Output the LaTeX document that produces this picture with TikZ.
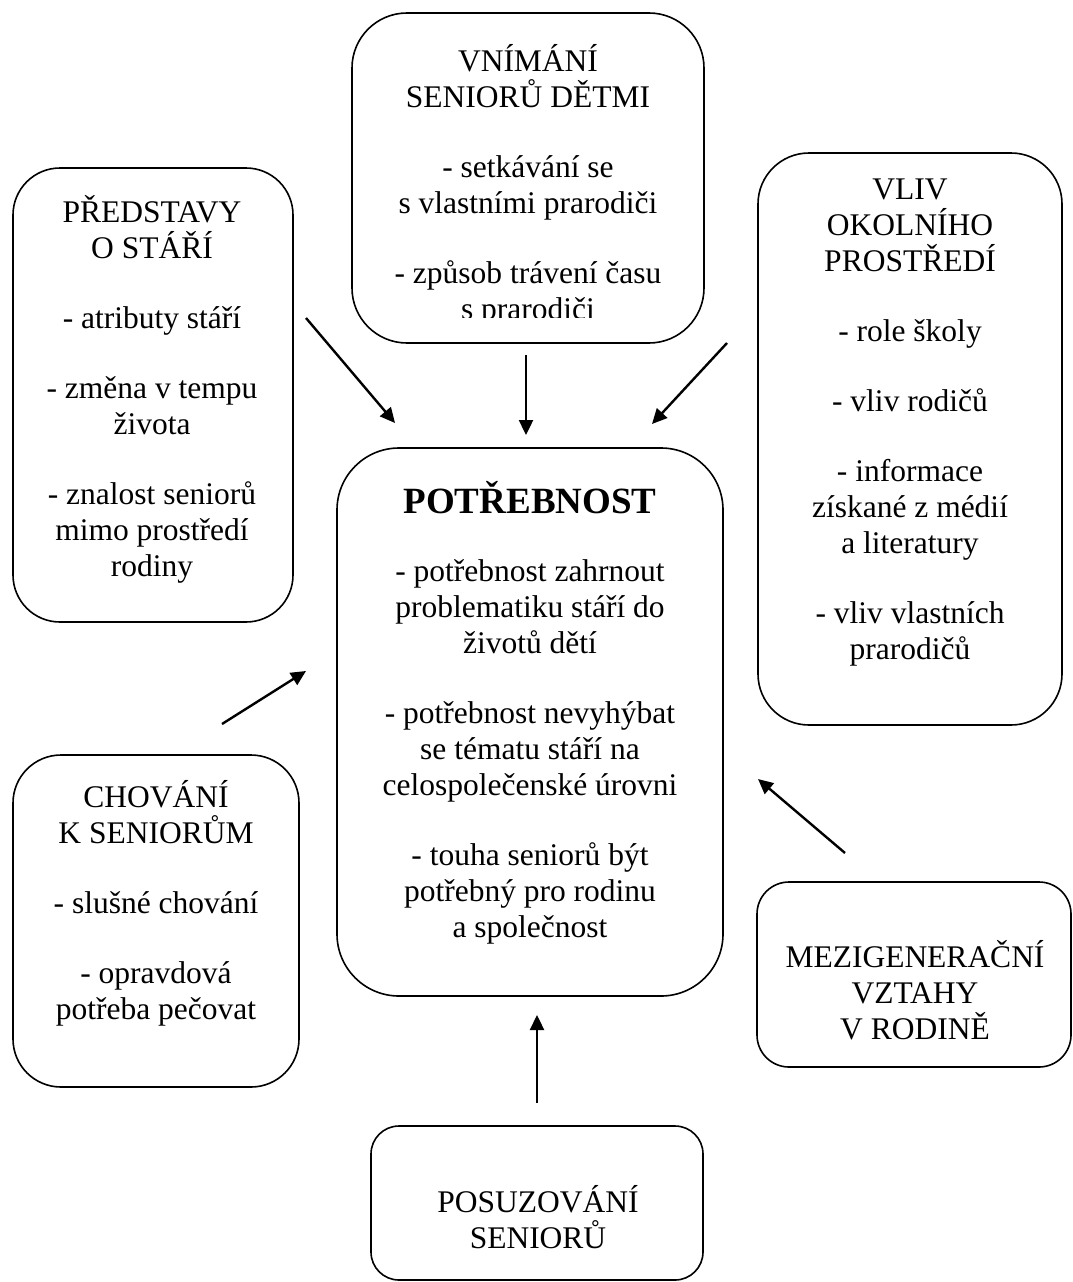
\documentclass[tikz,border=0pt]{standalone}
\usepackage{fontspec}
\setmainfont{Liberation Serif}
\usetikzlibrary{arrows.meta}

\tikzset{
  box/.style={draw, line width=1.6pt},
  txt/.style={align=center, inner sep=0pt, font=\fontsize{31.5}{36}\selectfont},
  arr/.style={-{Triangle[length=15pt,width=14pt]}, line width=2.4pt},
}
\newcommand{\gap}{\\[34pt]}

\begin{document}
\begin{tikzpicture}[x=1pt,y=-1pt]
\useasboundingbox (0,0) rectangle (1073,1282);
\def\predstavybox{(13,168) rectangle (293,622)}
\def\vnimanibox{(352,13) rectangle (704,343)}
\def\vlivbox{(758,153) rectangle (1062,725)}
\def\potrebnostbox{(337,448) rectangle (723,996)}
\def\chovanibox{(13,755) rectangle (299,1087)}
\def\mezibox{(757,882) rectangle (1071,1067)}
\def\posuzbox{(371,1126) rectangle (703,1280)}

\draw[box, rounded corners=47] \predstavybox;
\draw[box, rounded corners=55] \vnimanibox;
\draw[box, rounded corners=51] \vlivbox;
\draw[box, rounded corners=62] \potrebnostbox;
\draw[box, rounded corners=48] \chovanibox;
\draw[box, rounded corners=32] \mezibox;
\draw[box, rounded corners=28] \posuzbox;

\node[txt] (predstavy) at (152,389) {PŘEDSTAVY\\O STÁŘÍ\gap - atributy stáří\gap
  - změna v tempu\\života\gap - znalost seniorů\\mimo prostředí\\rodiny};

\begin{scope}
\clip (352,13) rectangle (704,317);
\node[txt] (vnimani) at (528,185) {VNÍMÁNÍ\\SENIORŮ DĚTMI\gap - setkávání se\\s vlastními prarodiči\gap
  - způsob trávení času\\s prarodiči};
\end{scope}

\node[txt] (vliv) at (910,423) {VLIV\\OKOLNÍHO\\PROSTŘEDÍ\gap - role školy\gap - vliv rodičů\gap
  - informace\\získané z médií\\a literatury\gap - vliv vlastních\\prarodičů};

\node[txt, font=\fontsize{37}{42}\selectfont\bfseries] (titul) at (530,498) {POTŘEBNOST};
\node[txt] (potrebnost) at (530,752) {- potřebnost zahrnout\\problematiku stáří do\\životů dětí\gap
  - potřebnost nevyhýbat\\se tématu stáří na\\celospolečenské úrovni\gap
  - touha seniorů být\\potřebný pro rodinu\\a společnost};

\node[txt] (chovani) at (156,903) {CHOVÁNÍ\\K SENIORŮM\gap - slušné chování\gap - opravdová\\potřeba pečovat};

\node[txt] (mezi) at (915,990) {MEZIGENERAČNÍ\\VZTAHY\\V RODINĚ};

\node[txt] (posuz) at (538,1217) {POSUZOVÁNÍ\\SENIORŮ};

% arrow ends
\coordinate (p1) at (306,318);  \coordinate (q1) at (395,423);
\coordinate (p2) at (526,355);  \coordinate (q2) at (526,435);
\coordinate (p3) at (727,343);  \coordinate (q3) at (652,424);
\coordinate (p4) at (222,724);  \coordinate (q4) at (306,671);
\coordinate (p5) at (845,853);  \coordinate (q5) at (758,779);
\coordinate (p6) at (537,1103); \coordinate (q6) at (537,1015);

\draw[arr] (p1) -- (q1);
\draw[arr] (p2) -- (q2);
\draw[arr] (p3) -- (q3);
\draw[arr] (p4) -- (q4);
\draw[arr] (p5) -- (q5);
\draw[arr] (p6) -- (q6);
\end{tikzpicture}
\end{document}
